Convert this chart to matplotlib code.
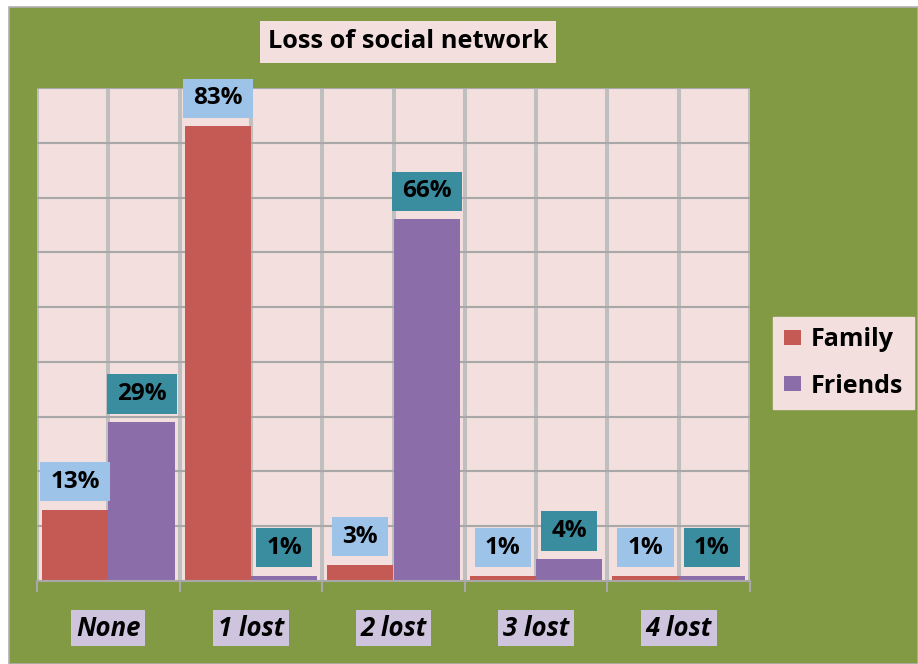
import matplotlib
matplotlib.use("Agg")
import matplotlib.pyplot as plt
from matplotlib.patches import Rectangle
import numpy as np

categories = ["None", "1 lost", "2 lost", "3 lost", "4 lost"]
family = [13, 83, 3, 1, 1]
friends = [29, 1, 66, 4, 1]
series_names = ["Family", "Friends"]
title = "Loss of social network"

W, H = 918, 664
fig = plt.figure(figsize=(W / 100, H / 100), dpi=100, facecolor="white")
FONT = ["Open Sans", "DejaVu Sans"]
plt.rcParams["font.family"] = FONT

GREEN = "#839A44"
PINK = "#F2DFDE"
FAM_C = "#C55A55"
FRI_C = "#8B6DAA"
FAM_LBL = "#9DC3E8"
FRI_LBL = "#3A8C9F"

# chart area background with border
fig.add_artist(Rectangle((9 / W, 0), 1 - 9 / W, 657 / H, transform=fig.transFigure,
                         facecolor=GREEN, edgecolor="#B0B0B0", lw=1.2, zorder=0))

ax = fig.add_axes([37 / W, 83 / H, 713 / W, 493 / H])
ax.set_facecolor(PINK)
ax.set_xlim(-0.5, 4.5)
ax.set_ylim(0, 90)

x = np.arange(len(categories))
w = 0.465
off = 0.233

# gridlines
for gx in np.arange(-0.5, 4.51, 0.5):
    ax.axvline(gx, color="#BFBFBF", lw=2.9, zorder=1)
for gy in range(10, 91, 10):
    ax.axhline(gy, color="#A8A8A8", lw=1.5, zorder=1.5)

b1 = ax.bar(x - off, family, width=w, color=FAM_C, zorder=3, label=series_names[0])
b2 = ax.bar(x + off, friends, width=w, color=FRI_C, zorder=3, label=series_names[1])

lbl_kw = dict(textcoords="offset pixels", ha="center", va="center", fontsize=17.5,
              fontweight="bold", color="black", zorder=5)
for xi, v in zip(x - off, family):
    ax.annotate(f"{v}%", (xi, v), xytext=(0, 28),
                bbox=dict(boxstyle="square,pad=0.42", fc=FAM_LBL, ec="none",
                          mutation_aspect=0.75), **lbl_kw)
for xi, v in zip(x + off, friends):
    ax.annotate(f"{v}%", (xi, v), xytext=(0, 28),
                bbox=dict(boxstyle="square,pad=0.42", fc=FRI_LBL, ec="none",
                          mutation_aspect=0.75), **lbl_kw)

for s in ["top", "right"]:
    ax.spines[s].set_visible(False)
ax.spines["left"].set_visible(False)
ax.spines["bottom"].set_color("#A8A8A8")
ax.spines["bottom"].set_linewidth(1.5)
ax.spines["bottom"].set_zorder(4)
ax.set_yticks([])
ax.set_xticks(np.arange(-0.5, 4.51, 1.0))
ax.set_xticklabels([])
ax.tick_params(axis="x", length=8, width=1.5, color="#A8A8A8", direction="out")

for xi, c in zip(x, categories):
    ax.annotate(c, (xi, 0), xytext=(0, -47), textcoords="offset pixels",
                ha="center", va="center", fontsize=18.5, fontweight="bold", fontstyle="italic",
                color="black", annotation_clip=False,
                bbox=dict(boxstyle="square,pad=0.18", fc="#CFC4DD", ec="none"))

fig.text(408 / W, 1 - 42 / H, title, ha="center", va="center", fontsize=18.3,
         fontweight="bold", color="black",
         bbox=dict(boxstyle="square,pad=0.32", fc=PINK, ec="none"))

leg = fig.legend(handles=[b1, b2], labels=series_names, loc="upper left",
                 bbox_to_anchor=(773 / W, 1 - 317 / H), frameon=True, fancybox=False,
                 facecolor=PINK, edgecolor=PINK, framealpha=1,
                 prop=dict(family=FONT, weight="bold", size=18),
                 handlelength=0.7, handleheight=0.55, handletextpad=0.4,
                 labelspacing=0.85, borderpad=0.42, borderaxespad=0)

fig.savefig("out.png", dpi=100, facecolor=fig.get_facecolor())
